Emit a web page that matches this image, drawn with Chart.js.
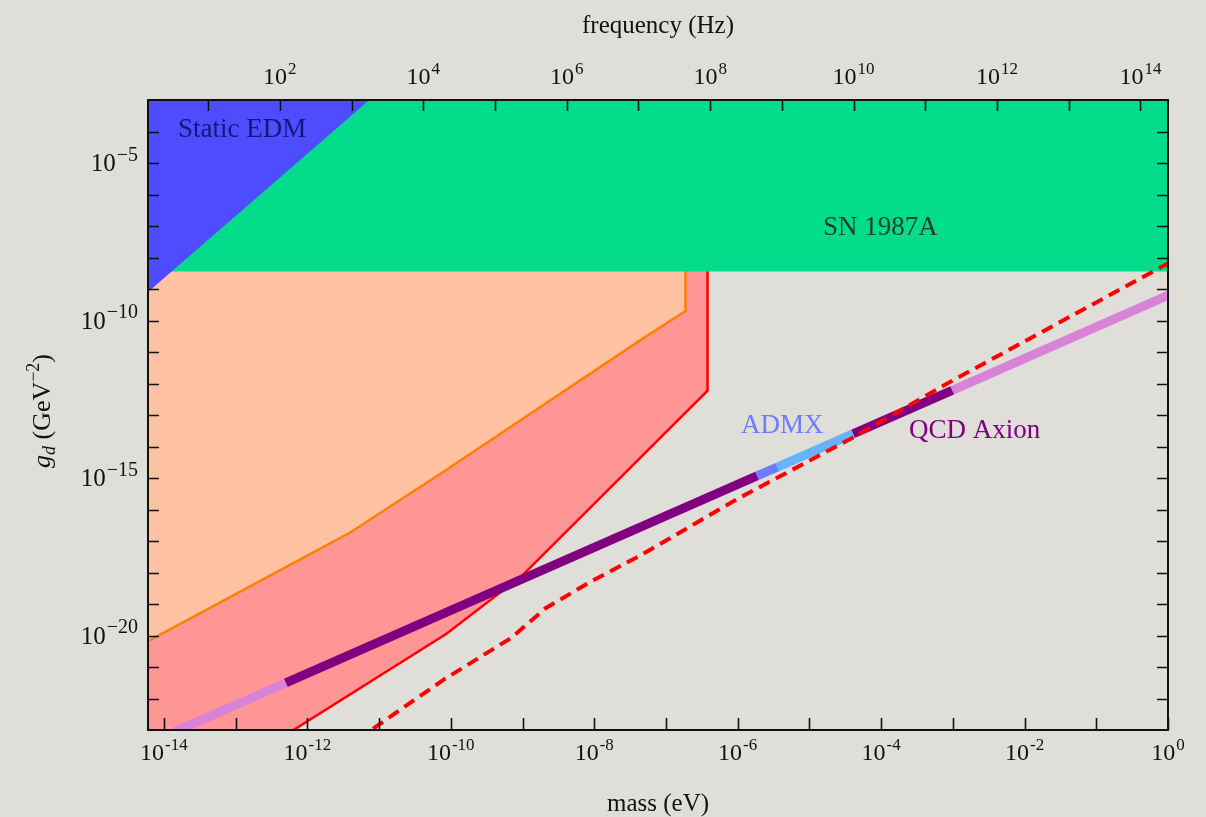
<!DOCTYPE html>
<html>
<head>
<meta charset="utf-8">
<script src="https://cdn.jsdelivr.net/npm/chart.js@4.4.1/dist/chart.umd.min.js"></script>
<style>
  html, body { margin: 0; padding: 0; background: #dfded9; }
  canvas { display: block; }
</style>
</head>
<body>
<canvas id="gd" width="1206" height="817"></canvas>
<script>
// axis ranges: mass in eV, coupling g_d in GeV^-2
const massMin = 6.0e-15;
const massMax = 1;
const gMin = 1e-23;
const gMax = 1e-3;
const hPlanck = 4.135667e-15; // eV s, turns mass into frequency for the top axis

// tick exponents
const massTicks = [-14, -13, -12, -11, -10, -9, -8, -7, -6, -5, -4, -3, -2, -1, 0];
const massLabels = [-14, -12, -10, -8, -6, -4, -2, 0];
const gTicks = [-22, -21, -20, -19, -18, -17, -16, -15, -14, -13, -12, -11, -10, -9, -8, -7, -6, -5, -4];
const gLabels = [-20, -15, -10, -5];
const freqTicks = [1, 2, 3, 4, 5, 6, 7, 8, 9, 10, 11, 12, 13, 14];
const freqLabels = [2, 4, 6, 8, 10, 12, 14];

// static EDM bound (excluded above the line)
const edmMass = [6.0e-15, 7.3e-12];
const edmG = [8.0e-10, 1e-3];

// SN 1987A (excluded above)
const snMass = [6.0e-15, 1];
const snG = [3.6e-9, 3.6e-9];

// orange contour, excluded above it
const orangeMass = [6.0e-15, 2.2e-13, 3.95e-12, 8.3e-11, 4.3e-8, 1.87e-7, 1.87e-7];
const orangeG = [6.6e-21, 5.4e-19, 1.86e-17, 1.7e-15, 2.3e-11, 1.98e-10, 1e-3];

// red contour, excluded to the upper left
const redMass = [6.0e-15, 5.0e-13, 8.6e-11, 9.8e-10, 3.8e-7, 3.8e-7];
const redG = [1e-25, 7.0e-24, 1.12e-20, 7.8e-19, 5.9e-13, 1e-3];

// projected reach (dashed)
const dashMass = [5.0e-12, 7.8e-11, 6.9e-10, 2.12e-9, 9.3e-9, 4.3e-8, 1.0e-6, 4.0e-5, 9.9e-4, 1];
const dashG = [5.0e-24, 3.85e-22, 8.3e-21, 7.5e-20, 5.4e-19, 3.37e-18, 2.19e-16, 1.9e-14, 1.24e-12, 6.5e-9];

// QCD axion band, split where the shading changes
const axionMass = [6.0e-15, 5.0e-13, 1.86e-6, 3.58e-6, 4.05e-5, 9.8e-4, 1];
const axionG = [3.74e-24, 3.12e-22, 1.16e-15, 2.23e-15, 2.53e-14, 6.1e-13, 6.24e-10];
const axionColors = ['#d883d8', '#800080', '#6b7dff', '#66b3ff', '#800080', '#d883d8'];

const pts = (xs, ys) => xs.map((x, i) => ({ x: x, y: ys[i] }));

const serif = '"Liberation Serif", "Times New Roman", serif';

const datasets = [
    {
        // dashed projection, on top of everything
        data: pts(dashMass, dashG),
        borderColor: '#ff0000',
        borderWidth: 4,
        borderDash: [12, 7],
        fill: false,
        order: 0
    },
    {
        data: pts(edmMass, edmG),
        borderWidth: 0,
        borderColor: 'rgba(0,0,0,0)',
        backgroundColor: '#4d4dff',
        fill: 'end',
        order: 2
    },
    {
        data: pts(snMass, snG),
        borderWidth: 0,
        borderColor: 'rgba(0,0,0,0)',
        backgroundColor: '#02dc8b',
        fill: 'end',
        order: 3
    },
    {
        data: pts(orangeMass, orangeG),
        borderColor: '#ff8000',
        borderWidth: 2.5,
        backgroundColor: '#ffc2a3',
        fill: 'end',
        order: 4
    },
    {
        data: pts(redMass, redG),
        borderColor: '#ff0000',
        borderWidth: 2.5,
        backgroundColor: '#ff9696',
        fill: 'end',
        order: 5
    }
];

// one dataset per shaded piece of the axion line
for (let i = 0; i < axionColors.length; i++) {
    datasets.push({
        data: pts(axionMass.slice(i, i + 2), axionG.slice(i, i + 2)),
        borderColor: axionColors[i],
        borderWidth: 9,
        borderCapStyle: 'butt',
        fill: false,
        order: 1
    });
}
datasets.forEach(d => { d.clip = 0; d.pointRadius = 0; });

// "10" with a raised exponent
function drawPower(ctx, exp, x, y, size, supSize, align, minus) {
    const sup = exp < 0 ? minus + Math.abs(exp) : String(exp);
    ctx.font = size + 'px ' + serif;
    const wb = ctx.measureText('10').width;
    ctx.font = supSize + 'px ' + serif;
    const ws = ctx.measureText(sup).width;
    const total = wb + 1 + ws;
    const left = align === 'right' ? x - total : x - total / 2;
    ctx.textAlign = 'left';
    ctx.textBaseline = 'alphabetic';
    ctx.font = size + 'px ' + serif;
    ctx.fillText('10', left, y);
    ctx.font = supSize + 'px ' + serif;
    ctx.fillText(sup, left + wb + 1, y - size * 0.42);
}

const regionLabels = {
    id: 'regionLabels',
    afterDatasetsDraw(chart) {
        const ctx = chart.ctx;
        ctx.save();
        ctx.font = '27px ' + serif;
        ctx.textAlign = 'left';
        ctx.textBaseline = 'alphabetic';
        ctx.fillStyle = '#16167a';
        ctx.fillText('Static EDM', 178, 137);
        ctx.fillStyle = '#1d3f2a';
        ctx.fillText('SN 1987A', 823, 235);
        ctx.fillStyle = '#6b7dff';
        ctx.fillText('ADMX', 741, 433);
        ctx.fillStyle = '#800080';
        ctx.fillText('QCD Axion', 909, 438);
        ctx.restore();
    }
};

const frame = {
    id: 'frame',
    afterDraw(chart) {
        const { ctx, chartArea: a, scales } = chart;
        const xs = scales.x, ys = scales.y, fs = scales.freq;
        ctx.save();
        ctx.strokeStyle = '#111';
        ctx.lineWidth = 2;
        ctx.strokeRect(a.left, a.top, a.right - a.left, a.bottom - a.top);

        // inward ticks
        ctx.lineWidth = 1.6;
        ctx.beginPath();
        massTicks.forEach(e => {
            const px = Math.round(xs.getPixelForValue(Math.pow(10, e))) + 0.5;
            ctx.moveTo(px, a.bottom);
            ctx.lineTo(px, a.bottom - 12);
        });
        freqTicks.forEach(e => {
            const px = Math.round(fs.getPixelForValue(Math.pow(10, e))) + 0.5;
            ctx.moveTo(px, a.top);
            ctx.lineTo(px, a.top + 11);
        });
        gTicks.forEach(e => {
            const py = Math.round(ys.getPixelForValue(Math.pow(10, e))) + 0.5;
            ctx.moveTo(a.left, py);
            ctx.lineTo(a.left + 11, py);
            ctx.moveTo(a.right, py);
            ctx.lineTo(a.right - 11, py);
        });
        ctx.stroke();

        ctx.fillStyle = '#111';
        massLabels.forEach(e => {
            drawPower(ctx, e, xs.getPixelForValue(Math.pow(10, e)), a.bottom + 30, 24, 17, 'center', '-');
        });
        freqLabels.forEach(e => {
            drawPower(ctx, e, fs.getPixelForValue(Math.pow(10, e)), a.top - 16, 24, 17, 'center', '-');
        });
        gLabels.forEach(e => {
            drawPower(ctx, e, a.left - 10, ys.getPixelForValue(Math.pow(10, e)) + 8, 25, 20, 'right', '\u2212');
        });

        // axis titles
        ctx.textAlign = 'center';
        ctx.textBaseline = 'alphabetic';
        ctx.font = '25px ' + serif;
        ctx.fillText('mass (eV)', (a.left + a.right) / 2, 811);
        ctx.fillText('frequency (Hz)', (a.left + a.right) / 2, 33);

        // g_d (GeV^-2), rotated
        const parts = [
            { t: 'g', f: 'italic 26px ', dy: 0 },
            { t: 'd', f: 'italic 18px ', dy: 5 },
            { t: ' (GeV', f: '26px ', dy: 0 },
            { t: '\u22122', f: '18px ', dy: -11 },
            { t: ')', f: '26px ', dy: 0 }
        ];
        let width = 0;
        parts.forEach(p => { ctx.font = p.f + serif; p.w = ctx.measureText(p.t).width; width += p.w; });
        ctx.translate(50, (a.top + a.bottom) / 2 - 4);
        ctx.rotate(-Math.PI / 2);
        ctx.textAlign = 'left';
        let cx = -width / 2;
        parts.forEach(p => {
            ctx.font = p.f + serif;
            ctx.fillText(p.t, cx, p.dy);
            cx += p.w;
        });
        ctx.restore();
    }
};

new Chart(document.getElementById('gd'), {
    type: 'line',
    data: { datasets: datasets },
    options: {
        responsive: false,
        animation: false,
        devicePixelRatio: 1,
        layout: { padding: { left: 148, right: 38, top: 100, bottom: 87 } },
        elements: { line: { tension: 0 } },
        plugins: {
            legend: { display: false },
            tooltip: { enabled: false }
        },
        scales: {
            x: { type: 'logarithmic', min: massMin, max: massMax, display: false },
            y: { type: 'logarithmic', min: gMin, max: gMax, display: false },
            freq: {
                type: 'logarithmic', axis: 'x', position: 'top',
                min: massMin / hPlanck, max: massMax / hPlanck, display: false
            }
        }
    },
    plugins: [regionLabels, frame]
});
</script>
</body>
</html>
